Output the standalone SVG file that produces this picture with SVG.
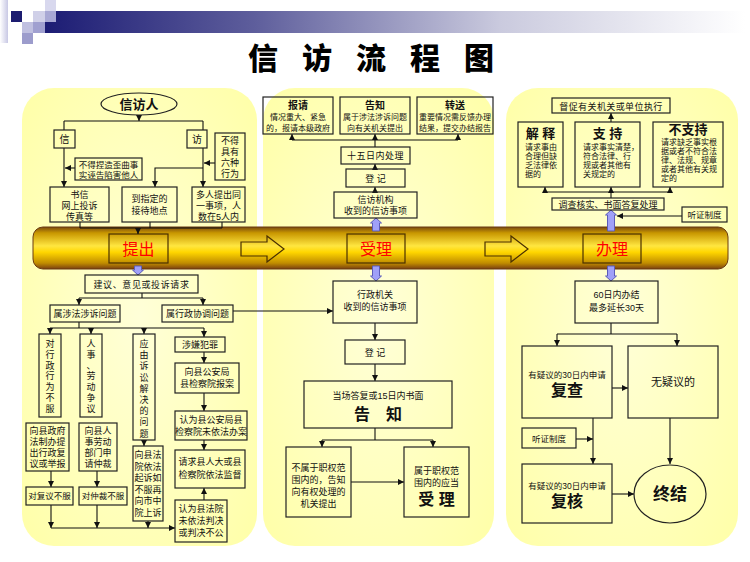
<svg xmlns="http://www.w3.org/2000/svg" width="750" height="562" viewBox="0 0 750 562">
<defs>
<style>
text{font-family:"Liberation Sans","Noto Sans CJK SC",sans-serif;fill:#111;text-anchor:middle;font-size:9px}
.b{fill:none;stroke:#222;stroke-width:1.2}
.bb{fill:none;stroke:#4a3000;stroke-width:1.2}
.c{fill:none;stroke:#111;stroke-width:1.1}
.s8{font-size:8px}
.s85{font-size:8.5px}
.s10{font-size:10px}
.tb{font-weight:700}
.big{font-size:16px;font-weight:700}
.hd{font-size:13px;font-weight:700}
.n{font-weight:400}
.ln{font-weight:400;text-anchor:start}
.red{fill:#FF0000;font-size:16px}
.blue{fill:#A0A0F8;stroke:#5C5CB8;stroke-width:1}
.hol{fill:none;stroke:#4a3000;stroke-width:1.2}
</style>
<marker id="ah" viewBox="0 0 10 10" refX="10" refY="5" markerWidth="6" markerHeight="6" markerUnits="userSpaceOnUse" orient="auto"><path d="M0,0 L10,5 L0,10 z" fill="#111"/></marker>
<radialGradient id="pg" cx="0.5" cy="0.5" r="0.7"><stop offset="0" stop-color="#FFFFD8"/><stop offset="1" stop-color="#FFFFA8"/></radialGradient>
<linearGradient id="bg" x1="0" y1="0" x2="0" y2="1"><stop offset="0" stop-color="#7A4A10"/><stop offset="0.14" stop-color="#C89600"/><stop offset="0.45" stop-color="#FFE640"/><stop offset="0.6" stop-color="#FFD600"/><stop offset="0.86" stop-color="#C08C00"/><stop offset="1" stop-color="#7A4010"/></linearGradient>
<linearGradient id="tg" x1="0" y1="0" x2="1" y2="0"><stop offset="0" stop-color="#1C1C74"/><stop offset="0.3" stop-color="#5E5E9C"/><stop offset="0.65" stop-color="#CACADE"/><stop offset="1" stop-color="#FFFFFF"/></linearGradient>
<linearGradient id="sg" x1="0" y1="0" x2="1" y2="0"><stop offset="0" stop-color="#FFFFFF"/><stop offset="1" stop-color="#C8C8E4"/></linearGradient>
</defs>
<rect width="750" height="562" fill="#FFFFFF"/>
<g id="decor">
<rect x="0" y="0" width="8" height="43" fill="url(#sg)"/>
<rect x="45" y="11" width="700" height="22" fill="url(#tg)"/>
<rect x="11" y="11" width="11" height="11" fill="#1C1C70"/>
<rect x="33" y="11" width="12" height="11" fill="#D0D0E8"/>
<rect x="45" y="0" width="11" height="11" fill="#D8D8EE"/>
<rect x="45" y="11" width="11" height="11" fill="#A8A8D4"/>
<rect x="22" y="22" width="11" height="11" fill="#C0C0E0"/>
<rect x="33" y="22" width="12" height="11" fill="#A0A0D0"/>
<rect x="22" y="33" width="11" height="11" fill="#9C9CCC"/>
</g>
<text id="title" x="248" y="69" style="font-size:30px;font-weight:900;text-anchor:start;letter-spacing:24px;fill:#000">信访流程图</text>
<g id="panels">
<rect x="22" y="88" width="235" height="458" rx="32" fill="url(#pg)"/>
<rect x="263" y="88" width="231" height="458" rx="32" fill="url(#pg)"/>
<rect x="506" y="88" width="232" height="458" rx="32" fill="url(#pg)"/>
</g>
<g id="banner">
<rect x="33" y="227" width="695" height="42" rx="10" fill="url(#bg)" stroke="#6A3A10" stroke-width="1"/>
<path class="hol" d="M241 242 H267 V236 L284 249 L267 262 V256 H241 Z"/>
<path class="hol" d="M485 242 H511 V236 L528 249 L511 262 V256 H485 Z"/>
</g>
<g id="stage-tichu"><rect class="bb" x="109" y="234" width="59" height="29"/><text class="red" x="138.5" y="254.5">提出</text></g>
<g id="stage-shouli"><rect class="bb" x="347" y="234" width="58" height="29"/><text class="red" x="376" y="254.5">受理</text></g>
<g id="stage-banli"><rect class="bb" x="583" y="234" width="58" height="29"/><text class="red" x="612" y="254.5">办理</text></g>

<g id="connectors">
<path class="c" d="M139 115 V121" marker-end="url(#ah)"/>
<path class="c" d="M64 121 H203 M64 121 V130 M203 121 V130"/>
<path class="c" d="M215 163 H204" marker-end="url(#ah)"/>
<path class="c" d="M203 148 V187" marker-end="url(#ah)"/>
<path class="c" d="M203 168 H155 V187" marker-end="url(#ah)"/>
<path class="c" d="M64 148 V187" marker-end="url(#ah)"/>
<path class="c" d="M75 168 H65" marker-end="url(#ah)"/>
<path class="c" d="M80 222 V228 M150 222 V228 M222 222 V228 M80 228 H222"/>
<path class="c" d="M138 228 V234" marker-end="url(#ah)"/>
<path class="c" d="M142 293 V298 M79 298 H203"/>
<path class="c" d="M79 298 V305" marker-end="url(#ah)"/>
<path class="c" d="M203 298 V305" marker-end="url(#ah)"/>
<path class="c" d="M233 311 H333" marker-end="url(#ah)"/>
<path class="c" d="M79 322 V328 M50 328 H204"/>
<path class="c" d="M50 328 V334" marker-end="url(#ah)"/>
<path class="c" d="M91 328 V334" marker-end="url(#ah)"/>
<path class="c" d="M144 328 V334" marker-end="url(#ah)"/>
<path class="c" d="M204 328 V337" marker-end="url(#ah)"/>
<path class="c" d="M204 352 V363" marker-end="url(#ah)"/>
<path class="c" d="M204 393 V411" marker-end="url(#ah)"/>
<path class="c" d="M204 440 V450" marker-end="url(#ah)"/>
<path class="c" d="M204 500 V488" marker-end="url(#ah)"/>
<path class="c" d="M144 440 V446" marker-end="url(#ah)"/>
<path class="c" d="M51 471 V487" marker-end="url(#ah)"/>
<path class="c" d="M97 471 V487" marker-end="url(#ah)"/>
<path class="c" d="M51 505 V528" marker-end="url(#ah)"/>
<path class="c" d="M97 505 V528" marker-end="url(#ah)"/>
<path class="c" d="M148 521 V528" marker-end="url(#ah)"/>
<path class="c" d="M51 528 H175" marker-end="url(#ah)"/>
<path class="c" d="M292 140 H458"/>
<path class="c" d="M292 140 V134" marker-end="url(#ah)"/>
<path class="c" d="M458 140 V134" marker-end="url(#ah)"/>
<path class="c" d="M375 147 V134" marker-end="url(#ah)"/>
<path class="c" d="M375 169 V164" marker-end="url(#ah)"/>
<path class="c" d="M375 192 V187" marker-end="url(#ah)"/>
<path class="c" d="M375 323 V340" marker-end="url(#ah)"/>
<path class="c" d="M375 364 V381" marker-end="url(#ah)"/>
<path class="c" d="M375 428 V440 M322 440 H433"/>
<path class="c" d="M322 440 V447" marker-end="url(#ah)"/>
<path class="c" d="M433 440 V447" marker-end="url(#ah)"/>
<path class="c" d="M351 482 H404" marker-end="url(#ah)"/>
<path class="c" d="M611 122 V113" marker-end="url(#ah)"/>
<path class="c" d="M545 192 H670"/>
<path class="c" d="M545 192 V187" marker-end="url(#ah)"/>
<path class="c" d="M670 192 V187" marker-end="url(#ah)"/>
<path class="c" d="M611 198 V187" marker-end="url(#ah)"/>
<path class="c" d="M682 216 H617" marker-end="url(#ah)"/>
<path class="c" d="M611 323 V334 M557 334 H677"/>
<path class="c" d="M557 334 V346" marker-end="url(#ah)"/>
<path class="c" d="M677 334 V346" marker-end="url(#ah)"/>
<path class="c" d="M612 388 H628" marker-end="url(#ah)"/>
<path class="c" d="M593 418 V464" marker-end="url(#ah)"/>
<path class="c" d="M576 439 H593" marker-end="url(#ah)"/>
<path class="c" d="M670 418 V464" marker-end="url(#ah)"/>
<path class="c" d="M612 494 H634" marker-end="url(#ah)"/>
<path class="blue" d="M134.5 266 H141.5 V270 H143.5 L138 275 L132.5 270 H134.5 Z"/>
<path class="blue" d="M372.5 231 V223 H370.5 L376 218 L381.5 223 H379.5 V231 Z"/>
<path class="blue" d="M372.5 266 H379.5 V276 H381.5 L376 281 L370.5 276 H372.5 Z"/>
<path class="blue" d="M607.5 231 V215 H605.5 L611 210 L616.5 215 H614.5 V231 Z"/>
<path class="blue" d="M607.5 266 H614.5 V276 H616.5 L611 281 L605.5 276 H607.5 Z"/>
</g>

<g id="n-xinfangren"><ellipse cx="139" cy="104" rx="38" ry="11" fill="none" stroke="#222" stroke-width="1.2"/><text x="139" y="109" style="font-size:13px;font-weight:700">信访人</text></g>
<g id="n-xin"><rect class="b" x="54" y="130" width="21" height="18"/><text class="s10" x="64.5" y="143">信</text></g>
<g id="n-fang"><rect class="b" x="187" y="130" width="20" height="18"/><text class="s10" x="197" y="143">访</text></g>
<g id="n-liuzhong"><rect class="b" x="215" y="133" width="30" height="47"/><text x="230" y="144">不得<tspan x="230" dy="11">具有</tspan><tspan x="230" dy="11">六种</tspan><tspan x="230" dy="11">行为</tspan></text></g>
<g id="n-buzhe"><rect class="b" x="75" y="158" width="67" height="22"/><text class="s85" x="108.5" y="167.5">不得捏造歪曲事<tspan x="108.5" dy="10">实诬告陷害他人</tspan></text></g>
<g id="n-shuxin"><rect class="b" x="50" y="187" width="59" height="35"/><text x="79.5" y="197.5">书信<tspan x="79.5" dy="11">网上投诉</tspan><tspan x="79.5" dy="11">传真等</tspan></text></g>
<g id="n-zhiding"><rect class="b" x="122" y="187" width="55" height="35"/><text x="149.5" y="202">到指定的<tspan x="149.5" dy="12">接待地点</tspan></text></g>
<g id="n-duoren"><rect class="b" x="192" y="187" width="53" height="35"/><text x="218.5" y="197.5">多人提出同<tspan x="218.5" dy="11">一事项，人</tspan><tspan x="218.5" dy="11">数在5人内</tspan></text></g>

<g id="n-jianyi"><rect class="b" x="85" y="275" width="113" height="18"/><text x="141.5" y="287.5" style="letter-spacing:0.6px">建议、意见或投诉请求</text></g>
<g id="n-shefa"><rect class="b" x="50" y="305" width="70" height="17"/><text x="85" y="317">属涉法涉诉问题</text></g>
<g id="n-xingzheng"><rect class="b" x="162" y="305" width="71" height="17"/><text x="197.5" y="317">属行政协调问题</text></g>
<g id="n-buf"><rect class="b" x="39" y="334" width="22" height="83"/><text x="50" y="347">对<tspan x="50" dy="10.8">行</tspan><tspan x="50" dy="10.8">政</tspan><tspan x="50" dy="10.8">行</tspan><tspan x="50" dy="10.8">为</tspan><tspan x="50" dy="10.8">不</tspan><tspan x="50" dy="10.8">服</tspan></text></g>
<g id="n-renshi"><rect class="b" x="80" y="334" width="22" height="83"/><text x="91" y="347">人<tspan x="91" dy="10.8">事</tspan><tspan x="91" dy="10.8">、</tspan><tspan x="91" dy="10.8">劳</tspan><tspan x="91" dy="10.8">动</tspan><tspan x="91" dy="10.8">争</tspan><tspan x="91" dy="10.8">议</tspan></text></g>
<g id="n-susong"><rect class="b" x="133" y="334" width="22" height="106"/><text x="144" y="347">应<tspan x="144" dy="11.2">由</tspan><tspan x="144" dy="11.2">诉</tspan><tspan x="144" dy="11.2">讼</tspan><tspan x="144" dy="11.2">解</tspan><tspan x="144" dy="11.2">决</tspan><tspan x="144" dy="11.2">的</tspan><tspan x="144" dy="11.2">问</tspan><tspan x="144" dy="11.2">题</tspan></text></g>
<g id="n-fanzui"><rect class="b" x="175" y="337" width="50" height="15"/><text x="200" y="348">涉嫌犯罪</text></g>
<g id="n-baoan"><rect class="b" x="175" y="363" width="64" height="30"/><text x="207" y="375">向县公安局<tspan x="207" dy="12">县检察院报案</tspan></text></g>
<g id="n-weiyifa"><rect class="b" x="175" y="411" width="72" height="29"/><text x="211" y="423">认为县公安局县<tspan x="211" dy="12">检察院未依法办案</tspan></text></g>
<g id="n-jiandu"><rect class="b" x="175" y="450" width="70" height="38"/><text x="210" y="465">请求县人大或县<tspan x="210" dy="13">检察院依法监督</tspan></text></g>
<g id="n-fayuan"><rect class="b" x="175" y="500" width="52" height="42"/><text x="201" y="512">认为县法院<tspan x="201" dy="12">未依法判决</tspan><tspan x="201" dy="12">或判决不公</tspan></text></g>
<g id="n-fuyi"><rect class="b" x="26" y="423" width="43" height="48"/><text x="47.5" y="434">向县政府<tspan x="47.5" dy="11">法制办提</tspan><tspan x="47.5" dy="11">出行政复</tspan><tspan x="47.5" dy="11">议或举报</tspan></text></g>
<g id="n-zhongcai"><rect class="b" x="79" y="423" width="38" height="48"/><text x="98" y="434">向县人<tspan x="98" dy="11">事劳动</tspan><tspan x="98" dy="11">部门申</tspan><tspan x="98" dy="11">请仲裁</tspan></text></g>
<g id="n-fuyibufu"><rect class="b" x="26" y="487" width="47" height="18"/><text class="s85" x="49.5" y="499">对复议不服</text></g>
<g id="n-zhongcaibufu"><rect class="b" x="79" y="487" width="48" height="18"/><text class="s85" x="103" y="499">对仲裁不服</text></g>
<g id="n-qisu"><rect class="b" x="133" y="446" width="30" height="75"/><text x="148" y="458">向县法<tspan x="148" dy="11.5">院依法</tspan><tspan x="148" dy="11.5">起诉如</tspan><tspan x="148" dy="11.5">不服再</tspan><tspan x="148" dy="11.5">向市中</tspan><tspan x="148" dy="11.5">院上诉</tspan></text></g>

<g id="n-baoqing"><rect class="b" x="263" y="97" width="70" height="37"/><text class="s10 tb" x="298" y="109">报请<tspan class="s8 n" x="298" dy="11">情况重大、紧急</tspan><tspan class="s8 n" x="298" dy="10.5">的，报请本级政府</tspan></text></g>
<g id="n-gaozhi1"><rect class="b" x="340" y="97" width="70" height="37"/><text class="s10 tb" x="375" y="109">告知<tspan class="s8 n" x="375" dy="11">属于涉法涉诉问题</tspan><tspan class="s8 n" x="375" dy="10.5">向有关机关提出</tspan></text></g>
<g id="n-zhuansong"><rect class="b" x="417" y="97" width="76" height="37"/><text class="s10 tb" x="455" y="109">转送<tspan class="s8 n" x="455" dy="11">重要情况需反馈办理</tspan><tspan class="s8 n" x="455" dy="10.5">结果，提交办结报告</tspan></text></g>
<g id="n-shiwu"><rect class="b" x="341" y="147" width="69" height="17"/><text x="375.5" y="159" style="letter-spacing:0.5px">十五日内处理</text></g>
<g id="n-dengji1"><rect class="b" x="346" y="169" width="59" height="18"/><text x="375.5" y="181.5">登 记</text></g>
<g id="n-jigou"><rect class="b" x="334" y="192" width="83" height="26"/><text x="375.5" y="203">信访机构<tspan x="375.5" dy="11">收到的信访事项</tspan></text></g>
<g id="n-jiguan"><rect class="b" x="333" y="281" width="84" height="42"/><text x="375" y="298">行政机关<tspan x="375" dy="12">收到的信访事项</tspan></text></g>
<g id="n-dengji2"><rect class="b" x="345" y="340" width="60" height="24"/><text x="375" y="355.5">登 记</text></g>
<g id="n-gaozhi2"><rect class="b" x="304" y="381" width="148" height="47"/><text x="378" y="399">当场答复或15日内书面<tspan class="big" x="378" dy="21">告　知</tspan></text></g>
<g id="n-bushu"><rect class="b" x="286" y="447" width="65" height="70"/><text x="318.5" y="471">不属于职权范<tspan x="318.5" dy="12">围内的，告知</tspan><tspan x="318.5" dy="12">向有权处理的</tspan><tspan x="318.5" dy="12">机关提出</tspan></text></g>
<g id="n-shuyu"><rect class="b" x="404" y="447" width="65" height="70"/><text x="436.5" y="474">属于职权范<tspan x="436.5" dy="12">围内的应当</tspan><tspan class="big" x="436.5" dy="19">受 理</tspan></text></g>

<g id="n-duchu"><rect class="b" x="552" y="98" width="118" height="15"/><text x="611" y="109.5" style="letter-spacing:0.4px">督促有关机关或单位执行</text></g>
<g id="n-jieshi"><rect class="b" x="518" y="122" width="45" height="65"/><text class="hd" x="540.5" y="138">解 释<tspan class="s8 ln" x="525" dy="12">请求事由</tspan><tspan class="s8 ln" x="525" dy="9">合理但缺</tspan><tspan class="s8 ln" x="525" dy="9">乏法律依</tspan><tspan class="s8 ln" x="525" dy="9">据的</tspan></text></g>
<g id="n-zhichi"><rect class="b" x="575" y="122" width="65" height="65"/><text class="hd" x="607.5" y="138">支 持<tspan class="s8 ln" x="583" dy="12">请求事实清楚，</tspan><tspan class="s8 ln" x="583" dy="9">符合法律、行</tspan><tspan class="s8 ln" x="583" dy="9">规或者其他有</tspan><tspan class="s8 ln" x="583" dy="9">关规定的</tspan></text></g>
<g id="n-buzhichi"><rect class="b" x="653" y="122" width="70" height="65"/><text class="hd" x="688" y="134">不支持<tspan class="s8 ln" x="661" dy="11">请求缺乏事实根</tspan><tspan class="s8 ln" x="661" dy="9">据或者不符合法</tspan><tspan class="s8 ln" x="661" dy="9">律、法规、规章</tspan><tspan class="s8 ln" x="661" dy="9">或者其他有关规</tspan><tspan class="s8 ln" x="661" dy="9">定的</tspan></text></g>
<g id="n-diaocha"><rect class="b" x="552" y="198" width="112" height="12"/><text x="608" y="207.5">调查核实、书面答复处理</text></g>
<g id="n-tingzheng1"><rect class="b" x="682" y="207" width="45" height="15"/><text class="s85" x="704.5" y="218">听证制度</text></g>
<g id="n-liushi"><rect class="b" x="575" y="281" width="83" height="42"/><text x="616.5" y="298">60日内办结<tspan x="616.5" dy="13">最多延长30天</tspan></text></g>
<g id="n-fucha"><rect class="b" x="522" y="346" width="90" height="72"/><text class="s85" x="567" y="378">有疑议的30日内申请<tspan class="big" x="567" dy="18">复查</tspan></text></g>
<g id="n-wuyiyi"><rect class="b" x="628" y="346" width="90" height="72"/><text style="font-size:11px" x="673" y="386">无疑议的</text></g>
<g id="n-tingzheng2"><rect class="b" x="522" y="428" width="54" height="20"/><text class="s85" x="549" y="441.5">听证制度</text></g>
<g id="n-fuhe"><rect class="b" x="522" y="464" width="90" height="59"/><text class="s85" x="567" y="489">有疑议的30日内申请<tspan class="big" x="567" dy="18">复核</tspan></text></g>
<g id="n-zhongjie"><ellipse cx="670" cy="494" rx="36" ry="29" fill="none" stroke="#222" stroke-width="1.2"/><text x="670" y="500" style="font-size:17px;font-weight:700">终结</text></g>
</svg>
